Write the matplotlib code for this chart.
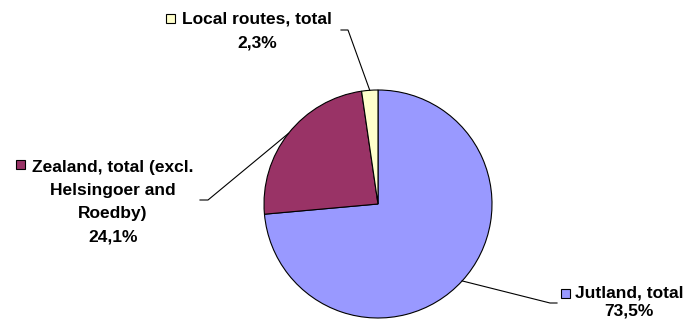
import matplotlib.pyplot as plt
import numpy as np
from matplotlib.patches import Rectangle

# data
routes = ['Jutland, total', 'Zealand, total (excl.', 'Local routes, total']
route_extra = [[], ['Helsingoer and', 'Roedby)'], []]
shares = [73.5, 24.1, 2.3]
colors = ['#9999FF', '#993366', '#FFFFCC']

W, H = 689, 325
fig = plt.figure(figsize=(W / 100, H / 100), dpi=100)
ax = fig.add_axes([0, 0, 1, 1])

cx, cy, r = 378, H - 204, 114
wedges, _ = ax.pie(shares, colors=colors, startangle=90, counterclock=False,
                   center=(cx, cy), radius=r,
                   wedgeprops=dict(edgecolor='black', linewidth=0.8))
ax.set_xlim(0, W)
ax.set_ylim(0, H)
ax.set_aspect('equal')
ax.axis('off')

# label layout in pixel coords (y measured from top)
# elbow point, end of line, text centre x, baselines, legend key centre
layout = [
    dict(elbow=(550, 303), end=(557, 303), tx=629, base=[298, 315], key=(565, 293)),
    dict(elbow=(208, 200), end=(200, 200), tx=113, base=[172, 195, 218, 241], key=(20, 164)),
    dict(elbow=(348, 30), end=(341, 30), tx=257, base=[24, 47], key=(170, 18)),
]

font = dict(family='Liberation Sans', fontweight='bold', fontsize=12.5, color='black')

for w, name, extra, val, col, lay in zip(wedges, routes, route_extra, shares, colors, layout):
    mid = np.deg2rad((w.theta1 + w.theta2) / 2)
    px, py = cx + r * np.cos(mid), cy + r * np.sin(mid)
    ex, ey = lay['elbow']
    qx, qy = lay['end']
    ax.plot([px, ex, qx], [py, H - ey, H - qy], color='black', lw=0.8)

    lines = [name] + extra + [f'{val:.1f}%'.replace('.', ',')]
    for txt, b in zip(lines, lay['base']):
        ax.text(lay['tx'], H - b, txt, ha='center', va='baseline', **font)

    kx, ky = lay['key']
    ax.add_patch(Rectangle((kx - 4.5, H - ky - 4.5), 9, 9, facecolor=col,
                           edgecolor='black', lw=0.8))

fig.savefig('out.png', dpi=100)
